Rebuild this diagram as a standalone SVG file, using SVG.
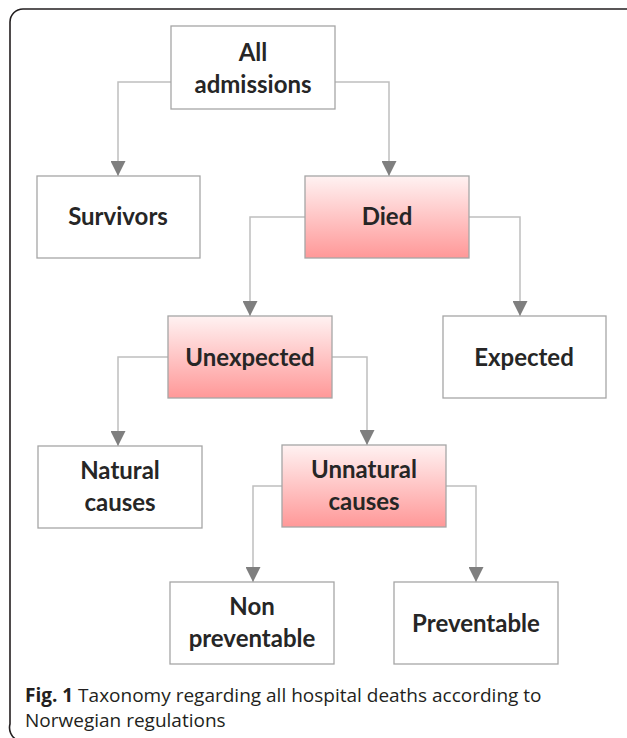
<svg xmlns="http://www.w3.org/2000/svg" width="627" height="738" viewBox="0 0 627 738">
<style>
.box{fill:#fff;stroke:#a6a6a6;stroke-width:1.3}
.red{fill:url(#pink);stroke:#a6a6a6;stroke-width:1.3}
.lbl{font-family:Lato,"Open Sans",sans-serif;font-weight:bold;font-size:24px;fill:#262626;text-anchor:middle}
.con{fill:none;stroke:#bfbfbf;stroke-width:1.5}
.cap{font-family:"Open Sans","Liberation Sans",sans-serif;font-size:19px;fill:#231f20}
</style>
<defs>
<linearGradient id="pink" x1="0" y1="0" x2="0" y2="1">
<stop offset="0" stop-color="#fff2f2"/>
<stop offset="1" stop-color="#ff9898"/>
</linearGradient>
<marker id="ah" viewBox="0 0 14 14" refX="14" refY="7" markerWidth="15" markerHeight="15" markerUnits="userSpaceOnUse" orient="auto">
<path d="M0,0 L14,7 L0,14 z" fill="#7f7f7f"/>
</marker>
</defs>
<path d="M630,9 H23 A13,13 0 0 0 10,22 V724 A14,14 0 0 0 17,740" fill="none" stroke="#231f20" stroke-width="1.6"/>
<g id="connectors">
<path class="con" marker-end="url(#ah)" d="M171,82 H118 V176"/>
<path class="con" marker-end="url(#ah)" d="M335,82 H389 V176"/>
<path class="con" marker-end="url(#ah)" d="M305,217 H250 V316"/>
<path class="con" marker-end="url(#ah)" d="M469,217 H520 V316"/>
<path class="con" marker-end="url(#ah)" d="M168,357 H118 V446"/>
<path class="con" marker-end="url(#ah)" d="M332,357 H367 V445"/>
<path class="con" marker-end="url(#ah)" d="M282,486 H253 V582"/>
<path class="con" marker-end="url(#ah)" d="M446,486 H476 V582"/>
</g>
<g id="all"><rect class="box" x="171" y="26" width="164" height="83"/><text class="lbl" x="253" y="61">All</text><text class="lbl" x="253" y="93">admissions</text></g>
<g id="survivors"><rect class="box" x="37" y="176" width="163" height="82"/><text class="lbl" x="118" y="225">Survivors</text></g>
<g id="died"><rect class="red" x="305" y="176" width="164" height="82"/><text class="lbl" x="387" y="225">Died</text></g>
<g id="unexpected"><rect class="red" x="168" y="316" width="164" height="82"/><text class="lbl" x="250" y="366">Unexpected</text></g>
<g id="expected"><rect class="box" x="443" y="316" width="163" height="82"/><text class="lbl" x="524" y="366">Expected</text></g>
<g id="natural"><rect class="box" x="38" y="446" width="164" height="82"/><text class="lbl" x="120" y="479">Natural</text><text class="lbl" x="120" y="511">causes</text></g>
<g id="unnatural"><rect class="red" x="282" y="445" width="164" height="82"/><text class="lbl" x="364" y="478">Unnatural</text><text class="lbl" x="364" y="510">causes</text></g>
<g id="nonpreventable"><rect class="box" x="170" y="582" width="164" height="82"/><text class="lbl" x="252" y="615">Non</text><text class="lbl" x="252" y="647">preventable</text></g>
<g id="preventable"><rect class="box" x="394" y="582" width="164" height="82"/><text class="lbl" x="476" y="632">Preventable</text></g>
<text class="cap" x="25" y="702"><tspan font-weight="bold">Fig. 1</tspan> Taxonomy regarding all hospital deaths according to</text>
<text class="cap" x="25" y="727">Norwegian regulations</text>
</svg>
